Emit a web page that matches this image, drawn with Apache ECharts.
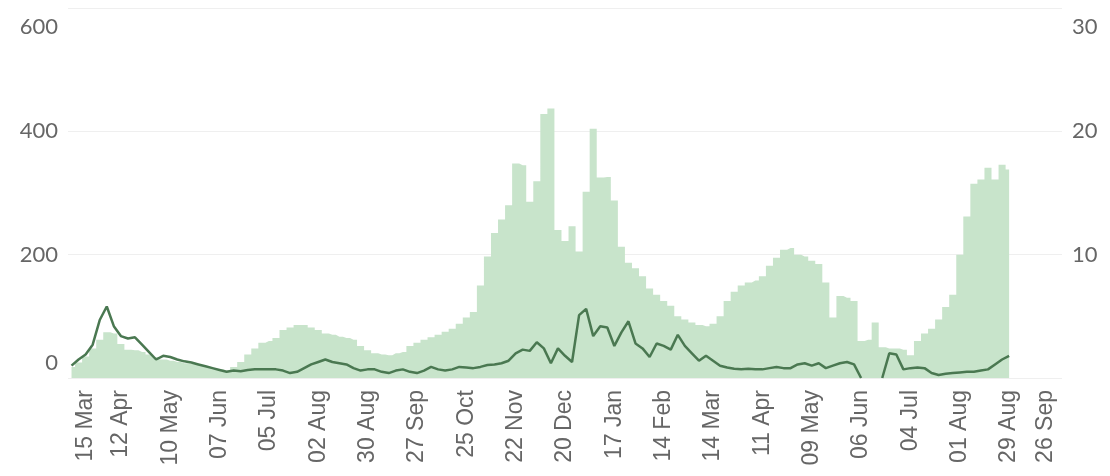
<!DOCTYPE html>
<html>
<head>
<meta charset="utf-8">
<script src="https://cdn.jsdelivr.net/npm/echarts@6/dist/echarts.min.js"></script>
<style>
  html, body { margin: 0; padding: 0; background: #ffffff; }
  #chart { width: 1110px; height: 476px; }
</style>
</head>
<body>
<div id="chart"></div>
<script>
// 4-day bins starting 15 Mar 2020 (bin index 0) through 26 Sep 2021 (bin 140)
const startDate = Date.UTC(2020, 2, 15);
const binDays = 4;
const binCount = 141;

// x tick labels, one every 7 bins (28 days)
const tickLabels = ['15 Mar','12 Apr','10 May','07 Jun','05 Jul','02 Aug','30 Aug','27 Sep','25 Oct','22 Nov',
  '20 Dec','17 Jan','14 Feb','14 Mar','11 Apr','09 May','06 Jun','04 Jul','01 Aug','29 Aug','26 Sep'];

// Cases (left axis), one value per 4-day bin
const cases = [
  18, 25, 35, 48, 62, 74, 72, 55, 46, 45,
  42, 38, 34, 30, 28, 26, 24, 23, 21, 18,
  16, 14, 12, 18, 26, 38, 48, 57, 60, 65,
  78, 82, 86, 86, 82, 78, 72, 70, 67, 65,
  62, 52, 45, 40, 38, 37, 40, 42, 52, 57,
  62, 66, 70, 75, 80, 88, 98, 107, 150, 197,
  235, 257, 280, 348, 345, 286, 319, 428, 437, 240,
  222, 246, 205, 302, 404, 325, 326, 288, 213, 187,
  178, 165, 145, 135, 125, 117, 100, 95, 90, 86,
  84, 88, 100, 125, 140, 150, 155, 158, 165, 182,
  195, 208, 211, 200, 197, 190, 185, 155, 98, 133,
  130, 125, 60, 62, 90, 50, 48, 48, 46, 37,
  60, 72, 80, 95, 115, 135, 200, 262, 315, 322,
  341, 322, 346, 338
];

// Deaths (right axis), one value per 4-day bin; null = no data
const deaths = [
  1.0, 1.5, 1.9, 2.7, 4.7, 5.8, 4.2, 3.4, 3.2, 3.3,
  2.7, 2.1, 1.5, 1.8, 1.7, 1.5, 1.35, 1.25, 1.1, 0.95,
  0.8, 0.65, 0.5, 0.6, 0.55, 0.65, 0.7, 0.7, 0.7, 0.7,
  0.6, 0.4, 0.5, 0.8, 1.1, 1.3, 1.5, 1.3, 1.2, 1.1,
  0.8, 0.6, 0.7, 0.7, 0.5, 0.4, 0.6, 0.7, 0.5, 0.4,
  0.6, 0.9, 0.7, 0.6, 0.7, 0.9, 0.85, 0.8, 0.9, 1.05,
  1.1, 1.2, 1.4, 2.0, 2.3, 2.2, 2.9, 2.4, 1.2, 2.4,
  1.8, 1.3, 5.1, 5.6, 3.4, 4.2, 4.1, 2.6, 3.7, 4.6,
  2.8, 2.4, 1.7, 2.8, 2.6, 2.3, 3.5, 2.6, 2.0, 1.4,
  1.8, 1.4, 1.0, 0.85, 0.75, 0.7, 0.75, 0.7, 0.7, 0.8,
  0.9, 0.8, 0.8, 1.1, 1.2, 1.0, 1.2, 0.8, 1.0, 1.2,
  1.3, 1.1, 0, null, null, 0, 2.0, 1.9, 0.7, 0.8,
  0.85, 0.8, 0.4, 0.25, 0.35, 0.4, 0.45, 0.5, 0.5, 0.6,
  0.7, 1.1, 1.5, 1.8
];

const leftTicks = { min: 0, max: 600, interval: 200 };
const rightTicks = { min: 0, max: 30, interval: 10 };

const categories = [];
for (let i = 0; i < binCount; i++) {
  const d = new Date(startDate + i * binDays * 86400000);
  categories.push(d.toISOString().slice(0, 10));
}

const labelColor = '#666666';
const areaColor = '#c8e4cb';
const lineColor = '#4a7851';
const yFont = { fontFamily: 'Lato', fontSize: 22, color: labelColor };
const xFont = { fontFamily: 'Liberation Sans', fontSize: 23, color: labelColor };

const chart = echarts.init(document.getElementById('chart'), null, { renderer: 'canvas' });
chart.setOption({
  animation: false,
  backgroundColor: '#ffffff',
  grid: { left: 68, right: 48, top: 8, bottom: 98, containLabel: false },
  xAxis: {
    type: 'category',
    data: categories,
    boundaryGap: true,
    axisLine: { show: false },
    axisTick: { show: false },
    splitLine: { show: false },
    axisLabel: Object.assign({
      rotate: 90,
      margin: 12,
      interval: function (idx) { return idx % 7 === 0; },
      formatter: function (value, idx) {
        const k = Math.round(idx / 7);
        const t = tickLabels[k];
        if (k === 0) return '{first|' + t + '}';
        if (k === tickLabels.length - 1) return '{last|' + t + '}';
        return t;
      },
      rich: {
        first: Object.assign({ padding: [29, 0, 0, 0] }, xFont),
        last: Object.assign({ padding: [0, 0, 25, 0] }, xFont)
      }
    }, xFont)
  },
  yAxis: [
    {
      type: 'value',
      position: 'left',
      min: leftTicks.min, max: leftTicks.max, interval: leftTicks.interval,
      axisLine: { show: false },
      axisTick: { show: false },
      splitLine: { show: true, lineStyle: { color: '#efefef', width: 1 } },
      axisLabel: Object.assign({
        margin: 10,
        formatter: function (v) {
          if (v === leftTicks.max) return '{top|' + v + '}';
          if (v === leftTicks.min) return '{bot|' + v + '}';
          return String(v);
        },
        rich: {
          top: Object.assign({ padding: [38, 0, 0, 0] }, yFont),
          bot: Object.assign({ padding: [0, 0, 30, 0] }, yFont)
        }
      }, yFont)
    },
    {
      type: 'value',
      position: 'right',
      min: rightTicks.min, max: rightTicks.max, interval: rightTicks.interval,
      axisLine: { show: false },
      axisTick: { show: false },
      splitLine: { show: false },
      axisLabel: Object.assign({
        margin: 10,
        formatter: function (v) {
          if (v === rightTicks.min) return '';
          if (v === rightTicks.max) return '{top|' + v + '}';
          return String(v);
        },
        rich: {
          top: Object.assign({ padding: [38, 0, 0, 0] }, yFont)
        }
      }, yFont)
    }
  ],
  series: [
    {
      name: 'Cases',
      type: 'line',
      yAxisIndex: 0,
      data: cases,
      step: 'middle',
      showSymbol: false,
      symbol: 'none',
      lineStyle: { width: 0, color: areaColor },
      areaStyle: { color: areaColor, opacity: 1 },
      itemStyle: { color: areaColor },
      emphasis: { disabled: true },
      z: 1
    },
    {
      name: 'Deaths',
      type: 'line',
      yAxisIndex: 1,
      data: deaths,
      showSymbol: false,
      symbol: 'none',
      connectNulls: false,
      lineStyle: { color: lineColor, width: 2.5 },
      itemStyle: { color: lineColor },
      emphasis: { disabled: true },
      z: 3
    }
  ]
});
</script>
</body>
</html>
